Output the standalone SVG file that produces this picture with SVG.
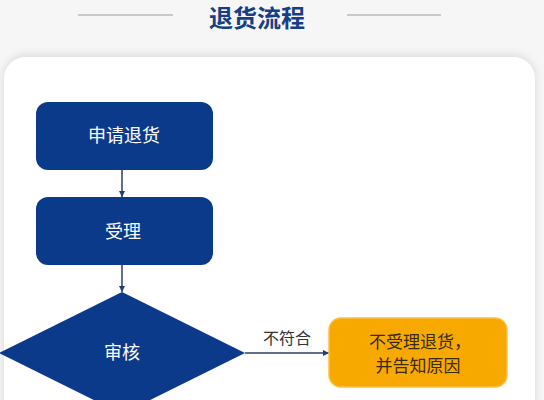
<svg xmlns="http://www.w3.org/2000/svg" width="544" height="400" viewBox="0 0 544 400">
<defs>
<style>
.box{fill:#0b3a8b;}
.wt{fill:#ffffff;font-family:"Noto Sans CJK SC","Noto Sans",sans-serif;font-size:18px;text-anchor:middle;}
.dt{fill:#3a2a12;font-family:"Noto Sans CJK SC","Noto Sans",sans-serif;font-size:17px;text-anchor:middle;}
.lb{fill:#333333;font-family:"Noto Sans CJK SC","Noto Sans",sans-serif;font-size:16px;text-anchor:middle;}
.ln{stroke:#2c3e66;stroke-width:1.5;fill:none;}
</style>
<marker id="ah" viewBox="0 0 10 10" refX="10" refY="5" markerWidth="6" markerHeight="6" markerUnits="userSpaceOnUse" orient="auto">
<path d="M0,0 L10,5 L0,10 z" fill="#1f3c78"/>
</marker>
<filter id="sh" x="-10%" y="-10%" width="120%" height="130%">
<feGaussianBlur in="SourceAlpha" stdDeviation="5"/>
<feOffset dy="-2"/>
<feComponentTransfer><feFuncA type="linear" slope="0.12"/></feComponentTransfer>
<feMerge><feMergeNode/><feMergeNode in="SourceGraphic"/></feMerge>
</filter>
</defs>
<rect x="0" y="0" width="544" height="400" fill="#f6f6f7"/>
<rect x="4" y="57" width="531" height="380" rx="22" fill="#ffffff" filter="url(#sh)"/>
<g id="title">
<line x1="78" y1="15" x2="173" y2="15" stroke="#c9c9cc" stroke-width="2"/>
<line x1="347" y1="15" x2="441" y2="15" stroke="#c9c9cc" stroke-width="2"/>
<text x="257" y="27" fill="#173f86" font-family="'Noto Sans CJK SC','Noto Sans',sans-serif" font-size="24" font-weight="bold" text-anchor="middle">退货流程</text>
</g>
<g id="connectors">
<line class="ln" x1="122" y1="170" x2="122" y2="197" marker-end="url(#ah)"/>
<line class="ln" x1="122" y1="265" x2="122" y2="292" marker-end="url(#ah)"/>
<line class="ln" x1="245" y1="353" x2="329" y2="353" marker-end="url(#ah)"/>
<text class="lb" x="287" y="344">不符合</text>
</g>
<g id="n1">
<rect class="box" x="36" y="102" width="177" height="68" rx="12"/>
<text class="wt" x="124" y="142">申请退货</text>
</g>
<g id="n2">
<rect class="box" x="36" y="197" width="177" height="68" rx="12"/>
<text class="wt" x="123" y="238">受理</text>
</g>
<g id="n3">
<polygon class="box" points="122,292 245,353 122,414 -1,353"/>
<text class="wt" x="122" y="359">审核</text>
</g>
<g id="n4">
<rect x="329" y="318" width="178" height="69" rx="12" fill="#f7a900" stroke="#fbc04a" stroke-width="1.5"/>
<text class="dt" x="420" y="348">不受理退货，</text>
<text class="dt" x="418" y="372">并告知原因</text>
</g>
</svg>
